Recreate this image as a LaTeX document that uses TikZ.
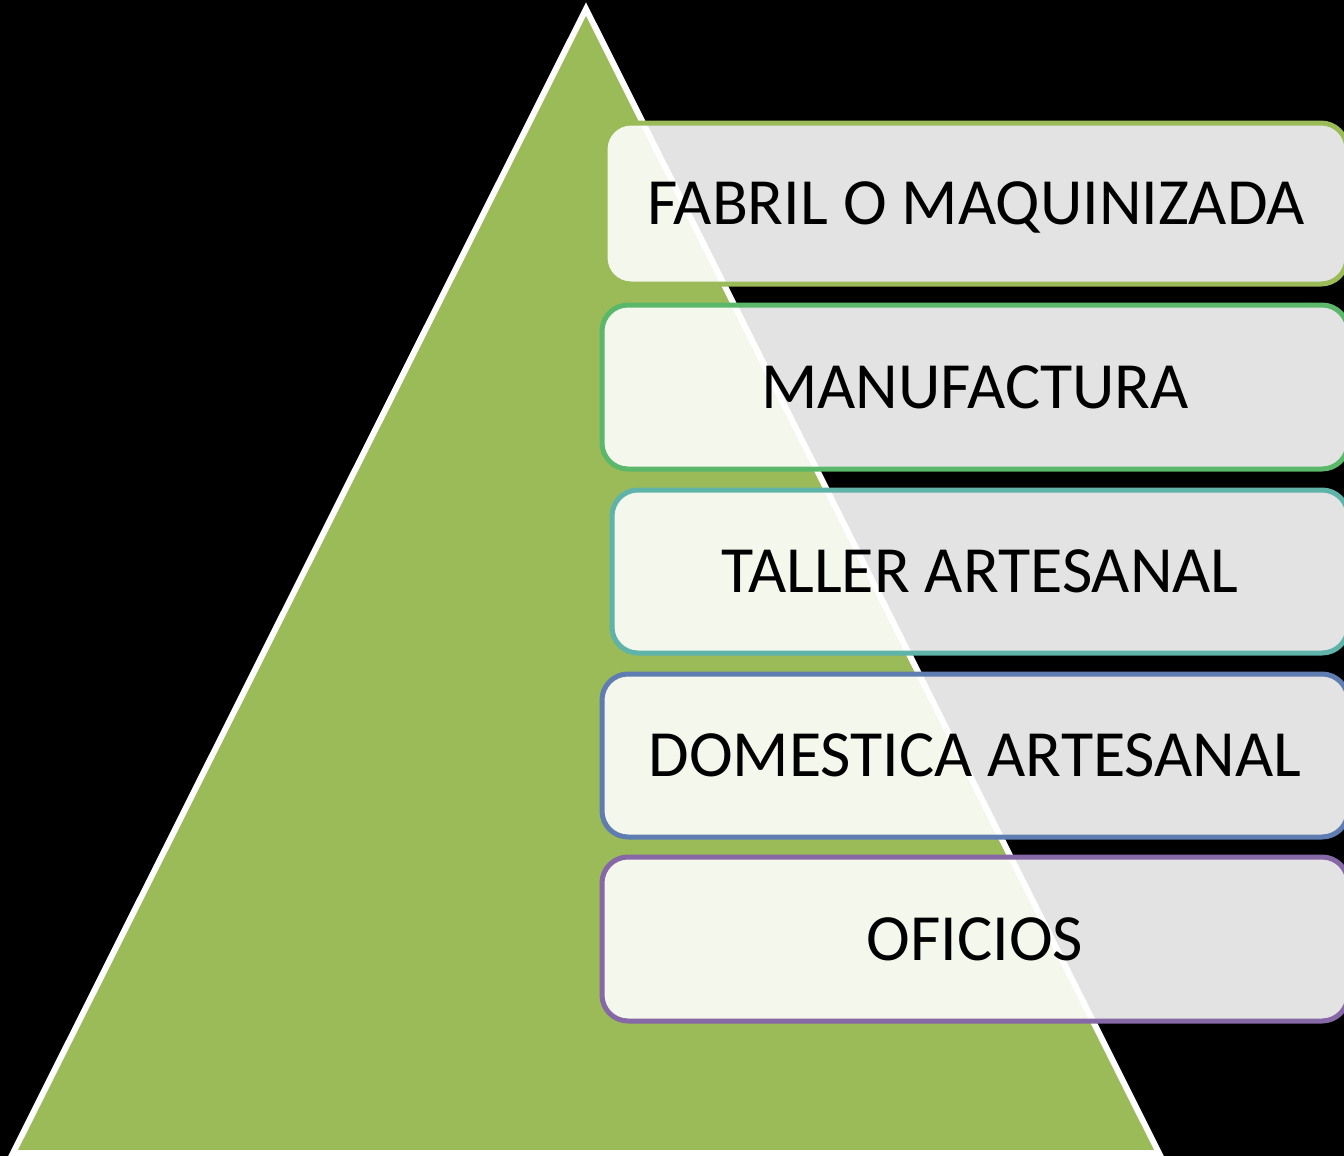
\documentclass[tikz,border=0pt]{standalone}
\usepackage{fontspec}
\setmainfont{Carlito}
\definecolor{tri}{HTML}{9BBB59}
\definecolor{c1}{HTML}{9BBB59}
\definecolor{c2}{HTML}{5BB86A}
\definecolor{c3}{HTML}{5FB3A8}
\definecolor{c4}{HTML}{5F7DB0}
\definecolor{c5}{HTML}{8668A6}
\tikzset{
  boxstyle/.style={draw, line width=5pt, rounded corners=26pt, fill=white, fill opacity=0.89, text opacity=1,
    inner sep=0pt, text height=42.5pt, text depth=0pt, font=\fontsize{66}{66}\selectfont, text=black},
  tristyle/.style={draw=white, line width=6pt, fill=tri}
}
\begin{document}
\begin{tikzpicture}[x=1pt,y=-1pt]
\useasboundingbox (0,0) rectangle (1344,1156);
\clip (0,0) rectangle (1344,1156);
\fill[black] (0,0) rectangle (1344,1156);
\coordinate (apex) at (586,9);
\coordinate (bl) at (13,1153);
\coordinate (br) at (1159,1153);
\path[tristyle] (apex) -- (br) -- (bl) -- cycle;
\node[boxstyle, draw=c1, minimum width=742pt, minimum height=161pt] (b1) at (976,203.5) {FABRIL O MAQUINIZADA};
\node[boxstyle, draw=c2, minimum width=746pt, minimum height=164pt] (b2) at (975,387) {MANUFACTURA};
\node[boxstyle, draw=c3, minimum width=736pt, minimum height=163pt] (b3) at (980,571.5) {TALLER ARTESANAL};
\node[boxstyle, draw=c4, minimum width=746pt, minimum height=163pt] (b4) at (975,755.5) {DOMESTICA ARTESANAL};
\node[boxstyle, draw=c5, minimum width=746pt, minimum height=164pt] (b5) at (975,939) {OFICIOS};
\end{tikzpicture}
\end{document}
